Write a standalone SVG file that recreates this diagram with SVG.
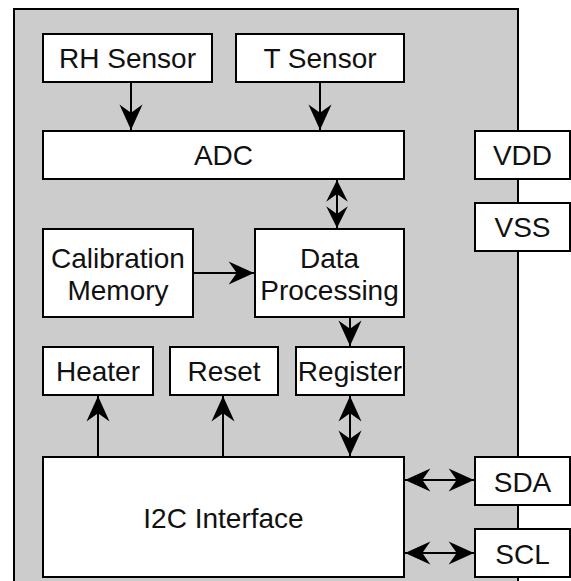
<svg xmlns="http://www.w3.org/2000/svg" width="571" height="581" viewBox="0 0 571 581">
<style>
.b{fill:#fff;stroke:#000;stroke-width:2}
.t{font-family:"Liberation Sans",Arial,sans-serif;font-size:28px;fill:#111;text-anchor:middle}
.c{stroke:#000;stroke-width:2;fill:none}
</style>
<defs>
<marker id="ah" markerUnits="userSpaceOnUse" markerWidth="30" markerHeight="30" viewBox="-24 -12 26 24" refX="0" refY="0" orient="auto-start-reverse">
<path d="M0,0 L-22,-10 L-15,0 L-22,10 Z" fill="#000"/>
</marker>
<marker id="as" markerUnits="userSpaceOnUse" markerWidth="26" markerHeight="26" viewBox="-22 -12 24 24" refX="0" refY="0" orient="auto-start-reverse">
<path d="M0,0 L-20,-10 L-13,0 L-20,10 Z" fill="#000"/>
</marker>
</defs>
<rect id="chip" x="14" y="9" width="504" height="600" fill="#cccccc" stroke="#000" stroke-width="2"/>
<g id="connectors">
<line class="c" x1="131" y1="82" x2="131" y2="130" marker-end="url(#ah)"/>
<line class="c" x1="320" y1="82" x2="320" y2="130" marker-end="url(#ah)"/>
<line class="c" x1="337" y1="180" x2="337" y2="228" marker-start="url(#as)" marker-end="url(#as)"/>
<line class="c" x1="193" y1="273" x2="254" y2="273" marker-end="url(#ah)"/>
<line class="c" x1="350" y1="317" x2="350" y2="346" marker-end="url(#ah)"/>
<line class="c" x1="98" y1="457" x2="98" y2="396" marker-end="url(#ah)"/>
<line class="c" x1="223" y1="457" x2="223" y2="396" marker-end="url(#ah)"/>
<line class="c" x1="350" y1="396" x2="350" y2="456" marker-start="url(#ah)" marker-end="url(#ah)"/>
<line class="c" x1="405" y1="480" x2="474" y2="480" marker-start="url(#ah)" marker-end="url(#ah)"/>
<line class="c" x1="405" y1="553" x2="474" y2="553" marker-start="url(#ah)" marker-end="url(#ah)"/>
</g>
<g id="rh"><rect class="b" x="43" y="34" width="169" height="48"/><text class="t" x="127.5" y="68">RH Sensor</text></g>
<g id="ts"><rect class="b" x="236" y="34" width="168" height="48"/><text class="t" x="320" y="68">T Sensor</text></g>
<g id="adc"><rect class="b" x="43" y="131" width="361" height="48"/><text class="t" x="223.5" y="165">ADC</text></g>
<g id="vdd"><rect class="b" x="475" y="131" width="95" height="48"/><text class="t" x="522.5" y="165">VDD</text></g>
<g id="vss"><rect class="b" x="475" y="203" width="95" height="48"/><text class="t" x="522.5" y="237">VSS</text></g>
<g id="cal"><rect class="b" x="43" y="229" width="150" height="88"/><text class="t" x="118" y="268">Calibration</text><text class="t" x="118" y="300">Memory</text></g>
<g id="dp"><rect class="b" x="255" y="229" width="149" height="88"/><text class="t" x="329.5" y="268">Data</text><text class="t" x="329.5" y="300">Processing</text></g>
<g id="heater"><rect class="b" x="43" y="347" width="110" height="48"/><text class="t" x="98" y="381">Heater</text></g>
<g id="reset"><rect class="b" x="170" y="347" width="108" height="48"/><text class="t" x="224" y="381">Reset</text></g>
<g id="reg"><rect class="b" x="296" y="347" width="108" height="48"/><text class="t" x="350" y="381">Register</text></g>
<g id="i2c"><rect class="b" x="43" y="457" width="361" height="120"/><text class="t" x="223.5" y="528">I2C Interface</text></g>
<g id="sda"><rect class="b" x="475" y="457" width="95" height="48"/><text class="t" x="522.5" y="492">SDA</text></g>
<g id="scl"><rect class="b" x="475" y="529" width="95" height="48"/><text class="t" x="522.5" y="564">SCL</text></g>
</svg>
